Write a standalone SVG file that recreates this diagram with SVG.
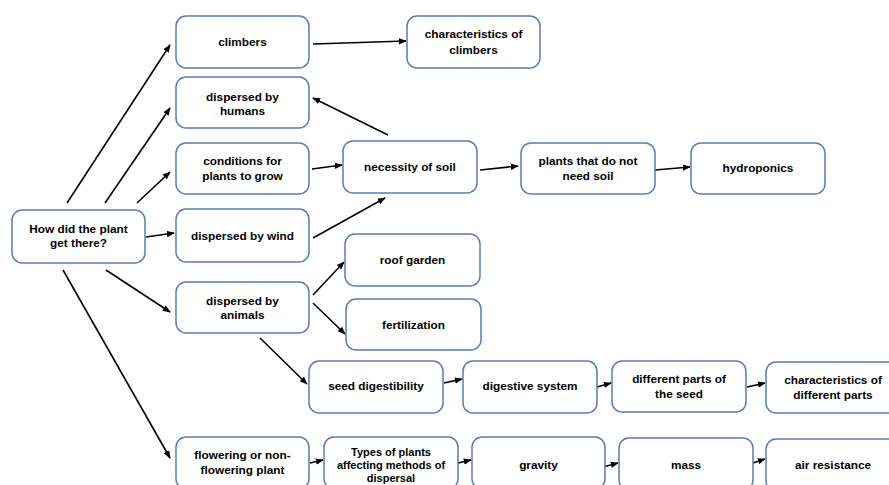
<svg xmlns="http://www.w3.org/2000/svg" width="889" height="485" viewBox="0 0 889 485">
  <defs>
    <marker id="arrow" viewBox="0 0 10 10" refX="9" refY="5" markerWidth="8" markerHeight="8" markerUnits="userSpaceOnUse" orient="auto">
      <path d="M0,1 L10,5 L0,9 Z" fill="#000"/>
    </marker>
    <style>
      .box { fill: #fff; stroke: #5a7cb6; stroke-width: 1.5; }
      .lbl { font-family: "Liberation Sans", Arial, sans-serif; font-weight: bold; font-size: 11.8px; fill: #000; text-anchor: middle; }
      .sm { font-size: 11px; }
      .edge { stroke: #000; stroke-width: 1.6; fill: none; marker-end: url(#arrow); }
    </style>
  </defs>
  <rect width="889" height="485" fill="#fff"/>

  <!-- connectors -->
  <g id="connectors">
    <line class="edge" x1="67" y1="203" x2="170" y2="45"/>
    <line class="edge" x1="105" y1="203" x2="170" y2="108"/>
    <line class="edge" x1="137" y1="203" x2="170" y2="172"/>
    <line class="edge" x1="146" y1="237" x2="174" y2="233"/>
    <line class="edge" x1="106" y1="270" x2="170" y2="312"/>
    <line class="edge" x1="63" y1="270" x2="170" y2="458"/>
    <line class="edge" x1="313" y1="44" x2="406" y2="41"/>
    <line class="edge" x1="388" y1="135" x2="313" y2="98"/>
    <line class="edge" x1="312" y1="169" x2="342" y2="165"/>
    <line class="edge" x1="313" y1="238" x2="385" y2="198"/>
    <line class="edge" x1="480" y1="170" x2="518" y2="166"/>
    <line class="edge" x1="655" y1="170" x2="690" y2="167"/>
    <line class="edge" x1="313" y1="295" x2="344" y2="262"/>
    <line class="edge" x1="313" y1="303" x2="345" y2="334"/>
    <line class="edge" x1="260" y1="338" x2="307" y2="384"/>
    <line class="edge" x1="444" y1="383" x2="462" y2="379"/>
    <line class="edge" x1="597" y1="387" x2="611" y2="383"/>
    <line class="edge" x1="747" y1="387" x2="765" y2="383"/>
    <line class="edge" x1="310" y1="463" x2="323" y2="460"/>
    <line class="edge" x1="458" y1="463" x2="471" y2="460"/>
    <line class="edge" x1="603" y1="467" x2="618" y2="463"/>
    <line class="edge" x1="753" y1="463" x2="765" y2="459"/>
  </g>

  <g id="how">
    <rect class="box" x="12" y="210" width="133" height="53" rx="10"/>
    <text class="lbl" x="78.5" y="233">How did the plant</text>
    <text class="lbl" x="78.5" y="247">get there?</text>
  </g>
  <g id="climbers">
    <rect class="box" x="176" y="16" width="133" height="52" rx="10"/>
    <text class="lbl" x="242.5" y="46">climbers</text>
  </g>
  <g id="char-climbers">
    <rect class="box" x="407" y="16" width="133" height="52" rx="10"/>
    <text class="lbl" x="473.5" y="38">characteristics of</text>
    <text class="lbl" x="473.5" y="54">climbers</text>
  </g>
  <g id="humans">
    <rect class="box" x="176" y="77" width="133" height="51" rx="10"/>
    <text class="lbl" x="242.5" y="101">dispersed by</text>
    <text class="lbl" x="242.5" y="115">humans</text>
  </g>
  <g id="conditions">
    <rect class="box" x="176" y="143" width="133" height="51" rx="10"/>
    <text class="lbl" x="242.5" y="165">conditions for</text>
    <text class="lbl" x="242.5" y="180">plants to grow</text>
  </g>
  <g id="wind">
    <rect class="box" x="176" y="209" width="133" height="53" rx="10"/>
    <text class="lbl" x="242.5" y="240">dispersed by wind</text>
  </g>
  <g id="soil">
    <rect class="box" x="343" y="141" width="134" height="52" rx="10"/>
    <text class="lbl" x="410" y="171">necessity of soil</text>
  </g>
  <g id="no-soil">
    <rect class="box" x="521" y="143" width="134" height="51" rx="10"/>
    <text class="lbl" x="588" y="165">plants that do not</text>
    <text class="lbl" x="588" y="180">need soil</text>
  </g>
  <g id="hydroponics">
    <rect class="box" x="691" y="143" width="134" height="51" rx="10"/>
    <text class="lbl" x="758" y="172">hydroponics</text>
  </g>
  <g id="animals">
    <rect class="box" x="176" y="282" width="133" height="51" rx="10"/>
    <text class="lbl" x="242.5" y="305">dispersed by</text>
    <text class="lbl" x="242.5" y="319">animals</text>
  </g>
  <g id="roof">
    <rect class="box" x="345" y="234" width="135" height="52" rx="10"/>
    <text class="lbl" x="412.5" y="264">roof garden</text>
  </g>
  <g id="fertilization">
    <rect class="box" x="346" y="299" width="135" height="51" rx="10"/>
    <text class="lbl" x="413.5" y="329">fertilization</text>
  </g>
  <g id="seed-dig">
    <rect class="box" x="309" y="361" width="134" height="52" rx="10"/>
    <text class="lbl" x="376" y="390">seed digestibility</text>
  </g>
  <g id="digestive">
    <rect class="box" x="463" y="361" width="134" height="52" rx="10"/>
    <text class="lbl" x="530" y="390">digestive system</text>
  </g>
  <g id="seed-parts">
    <rect class="box" x="612" y="361" width="134" height="51" rx="10"/>
    <text class="lbl" x="679" y="383">different parts of</text>
    <text class="lbl" x="679" y="398">the seed</text>
  </g>
  <g id="char-parts">
    <rect class="box" x="766" y="362" width="134" height="51" rx="10"/>
    <text class="lbl" x="833" y="384">characteristics of</text>
    <text class="lbl" x="833" y="399">different parts</text>
  </g>
  <g id="flowering">
    <rect class="box" x="176" y="437" width="133" height="52" rx="10"/>
    <text class="lbl" x="242.5" y="459">flowering or non-</text>
    <text class="lbl" x="242.5" y="474">flowering plant</text>
  </g>
  <g id="types">
    <rect class="box" x="324" y="437" width="134" height="52" rx="10"/>
    <text class="lbl sm" x="391" y="456">Types of plants</text>
    <text class="lbl sm" x="391" y="469">affecting methods of</text>
    <text class="lbl sm" x="391" y="482">dispersal</text>
  </g>
  <g id="gravity">
    <rect class="box" x="472" y="437" width="133" height="52" rx="10"/>
    <text class="lbl" x="538.5" y="469">gravity</text>
  </g>
  <g id="mass">
    <rect class="box" x="619" y="438" width="134" height="52" rx="10"/>
    <text class="lbl" x="686" y="469">mass</text>
  </g>
  <g id="air">
    <rect class="box" x="766" y="439" width="134" height="52" rx="10"/>
    <text class="lbl" x="833" y="469">air resistance</text>
  </g>
</svg>
